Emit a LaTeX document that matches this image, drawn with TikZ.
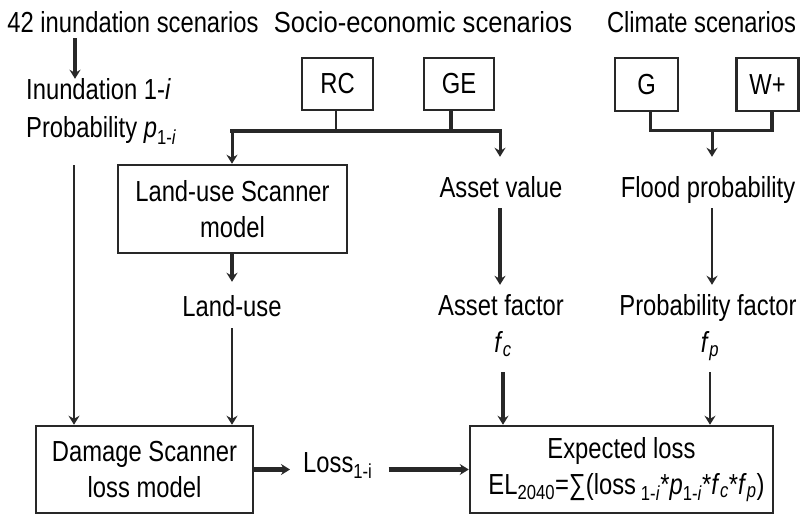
\documentclass[tikz,border=0pt]{standalone}
\usepackage{fontspec}
\setmainfont{Liberation Sans}[FakeStretch=0.82]
\usetikzlibrary{arrows.meta}
\definecolor{lc}{RGB}{40,40,40}
\begin{document}
\begin{tikzpicture}[x=1pt,y=-1pt,
  every node/.style={font=\fontsize{29}{36}\selectfont, inner sep=0pt, text=black},
  lbl/.style={anchor=base},
  boxn/.style={draw=lc, line width=2.5pt, fill=white, align=center},
  thinln/.style={draw=lc, line width=2.5pt},
  midln/.style={draw=lc, line width=3pt},
  thickln/.style={draw=lc, line width=4.5pt},
  arrowtip/.style={-{Stealth[length=9pt,width=11pt,inset=3pt]}}
]
\useasboundingbox (0,0) rectangle (803,518);

% titles
\node[lbl] (ttlA) at (133,33) {42 inundation scenarios};
\node[lbl] (ttlB) at (423,33) {\scalebox{1.075}[1]{Socio-economic scenarios}};
\node[lbl] (ttlC) at (701.5,33) {Climate scenarios};
\node[lbl, anchor=base west] (inund) at (26,100) {Inundation 1-\textit{i}};
\node[lbl, anchor=base west] (prob) at (26,138) {Probability \textit{p}\textsubscript{1-\textit{i}}};

% scenario boxes
\node[boxn, minimum width=71pt, minimum height=52pt] (rc) at (337.5,84) {RC};
\node[boxn, minimum width=70pt, minimum height=52pt] (ge) at (459,84) {GE};
\node[boxn, minimum width=63pt, minimum height=53pt] (g) at (646.5,84.5) {G};
\node[boxn, minimum width=62pt, minimum height=53pt] (wp) at (767.5,84.5) {W+};

% model boxes
\node[boxn, minimum width=229pt, minimum height=88pt] (lus) at (232.5,209) {Land-use Scanner\\model};
\node[boxn, minimum width=217pt, minimum height=87pt] (dmg) at (144.5,469.5) {Damage Scanner\\loss model};
\node[boxn, minimum width=303pt, minimum height=87pt] (exp) at (621.5,469.5) {Expected loss\\\hspace*{10pt}EL\textsubscript{2040}=∑(loss\,\textsubscript{1-\textit{i}}*\textit{p}\textsubscript{1-\textit{i}}*\textit{f}\textsubscript{\textit{c}}*\textit{f}\textsubscript{\textit{p}})};

% text labels
\node[lbl] (av) at (501,198) {Asset value};
\node[lbl] (fl) at (708,198) {Flood probability};
\node[lbl] (lu) at (232,317) {Land-use};
\node[lbl] (af) at (501,316) {Asset factor};
\node[lbl] (pf) at (708,316) {Probability factor};
\node[lbl] (fc) at (503,353) {\textit{f}\textsubscript{\textit{c}}};
\node[lbl] (fpn) at (710,353) {\textit{f}\textsubscript{\textit{p}}};
\node[lbl, anchor=base west] (loss) at (303,472) {Loss\textsubscript{1-i}};

% junctions and columns
\coordinate (xA) at (75,0);
\coordinate (xP) at (74,0);
\coordinate (xRC) at (336,0);
\coordinate (xGE) at (451,0);
\coordinate (bL) at (232,131);
\coordinate (bR) at (500,131);
\coordinate (cL) at (650,131);
\coordinate (cR) at (772,131);
\coordinate (cM) at (712,131);

% connectors
\draw[thinln, arrowtip, shorten <=21pt] (prob.south -| xP) -- (dmg.north -| xP);

\draw[thinln] (rc.south -| xRC) -- (bL -| xRC);
\draw[thickln] (ge.south -| xGE) -- (bL -| xGE);
\draw[thickln, line cap=rect] (bL) -- (bR);
\draw[midln, arrowtip] (bL) -- (lus.north -| bL);
\draw[midln, arrowtip, shorten >=20pt] (bR) -- (av.north -| bR);

\draw[midln, line join=miter] (g.south -| cL) -- (cL) -- (cR);
\draw[thickln] (wp.south -| cR) -- ([yshift=-1.5pt]cR);
\draw[midln, arrowtip, shorten >=20pt] (cM) -- (fl.north -| cM);

\draw[thickln, arrowtip, shorten <=10pt, shorten >=10pt] (av.south -| bR) -- (af.north -| bR);
\draw[thinln, arrowtip, shorten <=4pt, shorten >=10pt] (fl.south -| cM) -- (pf.north -| cM);
\draw[thickln, arrowtip, shorten >=14pt] (lus.south -| bL) -- (lu.north -| bL);
\draw[thinln, arrowtip, shorten <=11pt] (lu.south -| bL) -- (dmg.north -| bL);
\draw[thickln, arrowtip, shorten <=15pt] (fc.south) -- (exp.north -| fc.south);
\draw[thinln, arrowtip, shorten <=11pt] (fpn.south) -- (exp.north -| fpn.south);

\draw[thickln, arrowtip, shorten >=13pt] (dmg.east) -- (dmg.east -| loss.west);
\draw[thickln, arrowtip, shorten <=16pt] (loss.east |- dmg.east) -- (exp.west);

\draw[thickln, arrowtip] (ttlA.south -| xA) ++(0,5) coordinate (inA) -- (inund.north -| xA);
\end{tikzpicture}
\end{document}
